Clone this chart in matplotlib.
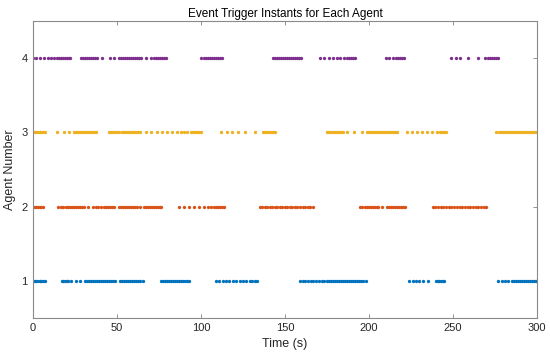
import numpy as np
import matplotlib
matplotlib.use('Agg')
import matplotlib.pyplot as plt

# event instants (s) for each agent
agent1 = [0, 1, 2, 3, 4, 5, 6, 7,
          17, 18, 19, 20, 21, 22.5, 25.5, 28, 31, 32.2, 33.4, 34.6, 35.8, 37, 38.2, 39.4,
          40.6, 41.8, 43, 44.2, 45.4, 46.6, 47.8, 49,
          52, 53.2, 54.4, 55.6, 56.8, 58, 59.2, 60.4, 61.6, 62.8, 64, 65.5,
          76, 77.2, 78.4, 79.6, 80.8, 82, 83.2, 84.4, 85.6, 86.8, 88, 89.2, 90.4, 91.6, 93,
          109, 111, 113, 115, 117, 119, 121, 123, 125, 127, 129, 130.5, 132, 133.5,
          159, 160.6, 162.2, 163.8, 165.4, 167, 168.6, 170.2, 171.8, 173.4, 175, 176.2,
          177.4, 178.6, 179.8, 181, 182.2, 183.4, 184.6, 185.8, 187, 188.2, 189.4, 190.6,
          191.8, 193, 194.2, 195.4, 196.6, 198,
          224, 226, 228, 230, 232, 235, 240, 241, 242, 243, 244, 245,
          277, 279, 281, 283, 285, 286.2, 287.4, 288.6, 289.8, 291, 292.2, 293.4, 294.6,
          295.8, 297, 298.2, 299.4]
agent2 = [0, 1, 2, 3, 4, 5, 6,
          15, 16.5, 18, 19.5, 21, 22.2, 23.4, 24.6, 25.8, 27, 28.2, 29.4, 30.5, 33,
          36, 37.5, 39, 40.5, 42, 43.2, 44.4, 45.6, 46.8, 48,
          51, 52.2, 53.4, 54.6, 55.8, 57, 58.2, 59.4, 60.6, 61.8, 64, 66, 67.2, 68.4,
          69.6, 70.8, 72, 73.2, 74.4, 75.6, 76.5,
          87, 90, 93, 96, 99, 102, 104, 106, 107.5, 109, 110.2, 111.4, 112.6, 113.5,
          135, 136.5, 138, 139.5, 141, 142.5, 144, 145.5, 147, 148.5, 150, 151.5, 153,
          154.5, 156, 157.5, 159, 160.5, 162, 163.5, 165, 166.5,
          195, 196.2, 197.4, 198.6, 199.8, 201, 202.2, 203.4, 204.6, 205.5, 208, 211,
          212.2, 213.4, 214.6, 215.8, 217, 218.2, 219.4, 220.6, 221.8,
          238, 239.6, 241.2, 242.8, 244.4, 246, 247.6, 249.2, 250.8, 252.4, 254, 255.6,
          257.2, 258.8, 260.4, 262, 263.6, 265.2, 266.8, 268.4, 270]
agent3 = [0, 1, 2, 3, 4, 5, 6, 7,
          14.5, 18.5, 21.5, 24.5, 25.7, 26.9, 28.1, 29.3, 30.5, 31.7, 32.9, 34.1, 35.3,
          36.5, 37.5,
          45.5, 46.7, 47.9, 49.1, 50.3, 51.5, 52.7, 53.9, 55.1, 56.3, 57.5, 58.7, 59.9,
          61.1, 62.3, 63.5,
          67, 70.5, 74, 77, 80, 83, 85.5, 88, 90, 92, 94, 95.2, 96.4, 97.6, 98.8, 100,
          112, 115.5, 118.5, 122, 126, 132, 137, 138.2, 139.4, 140.6, 141.8, 143, 144,
          175, 176.2, 177.4, 178.6, 179.8, 181, 182.2, 183.4, 184.6, 187,
          191, 196, 199, 200.2, 201.4, 202.6, 203.8, 205, 206.2, 207.4, 208.6, 209.8,
          211, 212.2, 213.4, 214.6, 215.8, 217,
          222.5, 225.5, 228.5, 231.5, 234.5, 237.5, 240.5, 242.5, 243.7, 244.9, 246.1,
          276, 277.2, 278.4, 279.6, 280.8, 282, 283.2, 284.4, 285.6, 286.8, 288, 289.2,
          290.4, 291.6, 292.8, 294, 295.2, 296.4, 297.6, 298.8, 300]
agent4 = [0, 2, 4, 6.5, 9, 11, 12.5, 14, 15.2, 16.4, 17.6, 18.8, 20, 21.2, 22.3,
          28.5, 29.7, 30.9, 32.1, 33.3, 34.5, 35.7, 36.9, 38.1, 41,
          46, 48.5, 51, 52.2, 53.4, 54.6, 55.8, 57, 58.2, 59.4, 60.6, 61.8, 63, 64.2,
          67, 70, 72, 73.2, 74.4, 75.6, 76.8, 78, 79,
          100, 102, 103.2, 104.4, 105.6, 106.8, 108, 109.2, 110.4, 111.6, 112.8,
          143, 144.2, 145.4, 146.6, 147.8, 149, 150.2, 151.4, 152.6, 153.8, 155, 156.2,
          157.4, 158.6, 159.5,
          171, 173.5, 176, 178.5, 181, 183, 185, 187, 188.2, 189.4, 190.6, 191.8,
          210, 212, 214.5, 216, 217.2, 218.4, 219.6, 220.8,
          249, 252, 254.5, 259, 265, 269, 271, 272.2, 273.4, 274.6, 275.8, 277]
agents = [agent1, agent2, agent3, agent4]
colors = ['#0072BD', '#D95319', '#EDB120', '#7E2F8E']

plt.rcParams['font.family'] = ['Liberation Sans', 'DejaVu Sans']

fig = plt.figure(figsize=(5.5, 3.58), dpi=100)
ax = fig.add_axes([0.06, 0.112, 0.916, 0.829])

for i, t in enumerate(agents):
    ax.plot(t, np.full(len(t), i + 1), linestyle='none', marker='o',
            markersize=2.4, markeredgewidth=0, color=colors[i])

ax.set_xlim(0, 300)
ax.set_ylim(0.5, 4.5)
ax.set_xticks([0, 50, 100, 150, 200, 250, 300])
ax.set_yticks([1, 2, 3, 4])
ax.tick_params(direction='in', length=3, width=0.6, colors='#808080',
               labelcolor='#262626', labelsize=8, top=True, right=True, pad=4)
for s in ax.spines.values():
    s.set_color('#8a8a8a')
    s.set_linewidth(0.8)
ax.set_xlabel('Time (s)', fontsize=9, color='#262626', labelpad=3)
ax.set_ylabel('Agent Number', fontsize=9, color='#262626', labelpad=4)
ax.set_title('Event Trigger Instants for Each Agent', fontsize=8.5,
             color='#000000', pad=3)

fig.savefig('out.png', dpi=100)
